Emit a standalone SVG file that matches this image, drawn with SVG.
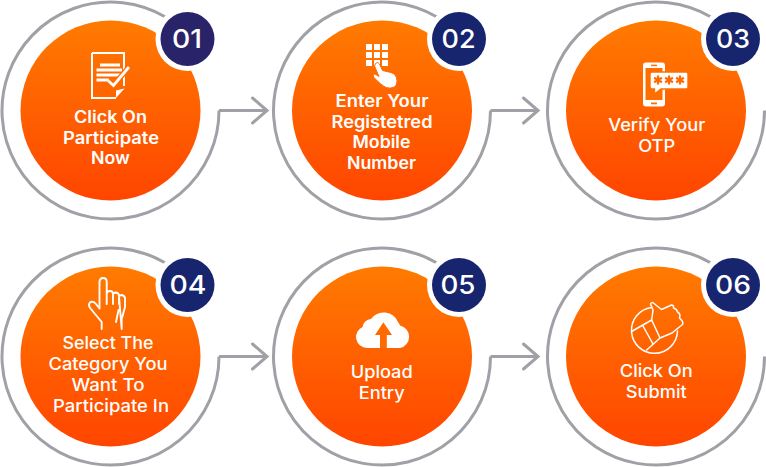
<svg xmlns="http://www.w3.org/2000/svg" xmlns:xlink="http://www.w3.org/1999/xlink" width="766" height="467" viewBox="0 0 766 467">
<style>
.ring{fill:none;stroke:#a0a1a6;stroke-width:3}
.conn{fill:none;stroke:#a0a1a6;stroke-width:3;marker-end:url(#head)}
.disc{fill:url(#orange)}
.halo{fill:#fff}
.badge{fill:#17256e}
.num{font-family:Inter,"Liberation Sans",sans-serif;font-size:25.500px;font-weight:500;fill:#fff;text-anchor:middle}
.lbl{font-family:Inter,"Liberation Sans",sans-serif;font-size:17px;fill:#fff;text-anchor:middle;font-weight:500}
.b{font-weight:600}
.fill{fill:#fff}
.line{fill:none;stroke:#fff;stroke-width:1.900;stroke-linejoin:round;stroke-linecap:round}
</style>
<defs>
<linearGradient id="orange" x1="0" y1="0" x2="0" y2="1"><stop offset="0" stop-color="#ff7b00"/><stop offset="1" stop-color="#ff4500"/></linearGradient>
<marker id="head" markerUnits="userSpaceOnUse" markerWidth="20" markerHeight="30" refX="16" refY="14" orient="auto" overflow="visible"><path d="M1.500 1.500L16 14L1.500 26.500" fill="none" stroke="#a0a1a6" stroke-width="3" stroke-linecap="round"/></marker>
<g id="star"><path d="M0-4.500V4.500M-3.900-2.250L3.900 2.250M-3.900 2.250L3.900-2.250" fill="none" stroke="#ff6a00" stroke-width="2.200"/></g>
</defs>

<g id="connectors">
<path class="conn" d="M219 110.500H267"/>
<path class="conn" d="M490.500 110.500H538"/>
<path class="conn" d="M219 356.500H267"/>
<path class="conn" d="M490.500 356.500H538"/>
</g>

<g id="node-01">
<path class="ring" d="M165 16.700A108.500 108.500 0 1 0 219 110.500"/>
<circle class="disc" cx="110.500" cy="110.500" r="90"/>
<circle class="halo" cx="187.500" cy="39" r="32"/>
<circle cx="187.500" cy="39" r="27" fill="#29246a"/>
<text class="num" x="187" y="48" textLength="30" lengthAdjust="spacingAndGlyphs">01</text>
<g id="icon-01">
<path d="M92 53H124V86M92 53V98H116" fill="none" stroke="#fff" stroke-width="2"/>
<path class="fill" d="M116 98V90.500L124.500 88.500Z"/>
<path class="fill" d="M100 63.500H120V66.500H100ZM96.500 68.500H122V71.500H96.500ZM96.500 73.500H122V76.500H96.500ZM96.500 78.500H109V81.500H96.500Z"/>
<path d="M108 80.500L113.500 85.500L129 67" fill="none" stroke="#ff6a00" stroke-width="5.500"/>
<path d="M108 80.500L113.500 85.500L129 67" fill="none" stroke="#fff" stroke-width="2.800"/>
</g>
<text class="lbl b" x="110.500" y="122.500" textLength="73" lengthAdjust="spacingAndGlyphs">Click On</text>
<text class="lbl b" x="111" y="143.500" textLength="96" lengthAdjust="spacingAndGlyphs">Participate</text>
<text class="lbl b" x="110.500" y="164.300" textLength="39" lengthAdjust="spacingAndGlyphs">Now</text>
</g>

<g id="node-02">
<path class="ring" d="M436.500 16.700A108.500 108.500 0 1 0 490.500 110.500"/>
<circle class="disc" cx="382" cy="110.500" r="90"/>
<circle class="halo" cx="459" cy="39" r="32"/>
<circle class="badge" cx="459" cy="39" r="27"/>
<text class="num" x="458.500" y="48" textLength="34" lengthAdjust="spacingAndGlyphs">02</text>
<g id="icon-02">
<path class="fill" d="M366 44h6v6h-6zM374 44h6v6h-6zM382 44h6v6h-6zM366 52h6v6h-6zM374 52h6v6h-6zM382 52h6v6h-6zM366 60h6v6h-6zM374 60h6v6h-6zM382 60h6v6h-6z"/>
<path d="M375.500 63.500Q378 61 379.500 64L382.500 70.500L391 72.500Q395 73.500 396.500 77.500Q398 84 394.500 87Q390 89 386 87.500Q381 85 373.500 77Q372.500 74 375 74L379 76.500L374.500 66Z" fill="#fff" stroke="#ff6a00" stroke-width="1"/>
</g>
<text class="lbl b" x="382" y="106.700" textLength="93" lengthAdjust="spacingAndGlyphs">Enter Your</text>
<text class="lbl b" x="382" y="127.500" textLength="101" lengthAdjust="spacingAndGlyphs">Registetred</text>
<text class="lbl b" x="381.500" y="148.300" textLength="58" lengthAdjust="spacingAndGlyphs">Mobile</text>
<text class="lbl b" x="381.500" y="169" textLength="69" lengthAdjust="spacingAndGlyphs">Number</text>
</g>

<g id="node-03">
<path class="ring" d="M710.500 16.700A108.500 108.500 0 1 0 764.500 110.500"/>
<circle class="disc" cx="656" cy="110.500" r="90"/>
<circle class="halo" cx="733" cy="39" r="32"/>
<circle class="badge" cx="733" cy="39" r="27"/>
<text class="num" x="733" y="48" textLength="34" lengthAdjust="spacingAndGlyphs">03</text>
<g id="icon-03">
<rect class="fill" x="643" y="62.500" width="22" height="44" rx="3"/>
<rect x="645.500" y="68" width="17" height="32" fill="#ff6f00"/>
<rect x="651" y="64.700" width="6" height="1.500" fill="#ff6f00"/>
<rect x="651" y="102.500" width="6" height="1.800" fill="#ff6f00"/>
<path d="M652 72H686Q688 72 688 74V87Q688 89 686 89H661L654.500 94V89H652Q650 89 650 87V74Q650 72 652 72Z" fill="#fff" stroke="#ff6f00" stroke-width="1.400"/>
<use xlink:href="#star" href="#star" x="658" y="80"/>
<use xlink:href="#star" href="#star" x="669" y="80"/>
<use xlink:href="#star" href="#star" x="680" y="80"/>
</g>
<text class="lbl" x="656.700" y="130.700" textLength="97" lengthAdjust="spacingAndGlyphs">Verify Your</text>
<text class="lbl" x="656.700" y="151.700" textLength="37" lengthAdjust="spacingAndGlyphs">OTP</text>
</g>

<g id="node-04">
<path class="ring" d="M165 262.700A108.500 108.500 0 1 0 219 356.500"/>
<circle class="disc" cx="110.500" cy="356.500" r="90"/>
<circle class="halo" cx="187.500" cy="285" r="32"/>
<circle class="badge" cx="187.500" cy="285" r="27"/>
<text class="num" x="188" y="294" textLength="37" lengthAdjust="spacingAndGlyphs">04</text>
<g id="icon-04" class="line">
<path d="M101.700 329V322L90.500 308.500Q87.500 304.500 90.500 302Q94 301 96 304L99.500 308.500V281.500Q100 278 103 278Q106.500 278 106.700 281.500V304M106.700 293.500Q107 291 110 291Q113 291 113 294V304M113 294.500Q113.500 292.500 116 292.500Q119 293 119 296V304M119 296.500Q120 295 122 295Q125 296 125 298.500V307L121.700 319V329ZM118.500 310L116 322"/>
</g>
<text class="lbl" x="108" y="349.300" textLength="91" lengthAdjust="spacingAndGlyphs">Select The</text>
<text class="lbl" x="108" y="370" textLength="119" lengthAdjust="spacingAndGlyphs">Category You</text>
<text class="lbl" x="108" y="390.700" textLength="73" lengthAdjust="spacingAndGlyphs">Want To</text>
<text class="lbl" x="111" y="411.700" textLength="116" lengthAdjust="spacingAndGlyphs">Participate In</text>
</g>

<g id="node-05">
<path class="ring" d="M436.500 262.700A108.500 108.500 0 1 0 490.500 356.500"/>
<circle class="disc" cx="382" cy="356.500" r="90"/>
<circle class="halo" cx="459" cy="285" r="32"/>
<circle class="badge" cx="459" cy="285" r="27"/>
<text class="num" x="458" y="294" textLength="35" lengthAdjust="spacingAndGlyphs">05</text>
<g id="icon-05">
<path class="fill" d="M367 348A11 11 0 0 1 362.500 327A9 9 0 0 1 371 319A15.500 15.500 0 0 1 398 322A9 9 0 0 1 400 325.500A11.500 11.500 0 0 1 400 348Z"/>
<path d="M383.400 322.300L392 335H386.800V348H380V335H375Z" fill="#ff6a00"/>
</g>
<text class="lbl" x="381.700" y="378.300" textLength="62" lengthAdjust="spacingAndGlyphs">Upload</text>
<text class="lbl" x="381.700" y="399.300" textLength="46" lengthAdjust="spacingAndGlyphs">Entry</text>
</g>

<g id="node-06">
<path class="ring" d="M710.500 262.700A108.500 108.500 0 1 0 764.500 356.500"/>
<circle class="disc" cx="656" cy="356.500" r="90"/>
<circle class="halo" cx="733" cy="285" r="32"/>
<circle class="badge" cx="733" cy="285" r="27"/>
<text class="num" x="733" y="294" textLength="36" lengthAdjust="spacingAndGlyphs">06</text>
<g id="icon-06" class="line" style="stroke-width:1.500">
<path d="M651.500 307.500A23 23 0 1 0 677.500 331"/>
<path d="M631.500 331.500L651.700 320L660 338L646.700 350M651.700 320L653 310L650.500 304Q651.500 301.500 654 303.500L661.500 309.500L671.500 305Q674 305 673.500 308Q677 309 677.500 312Q681 314 679.500 318Q684 322 682.500 324.500L672 333L660 338M643 326L653 344"/>
</g>
<text class="lbl" x="656.300" y="377.300" textLength="73" lengthAdjust="spacingAndGlyphs">Click On</text>
<text class="lbl" x="656.300" y="397.700" textLength="61" lengthAdjust="spacingAndGlyphs">Submit</text>
</g>
</svg>
